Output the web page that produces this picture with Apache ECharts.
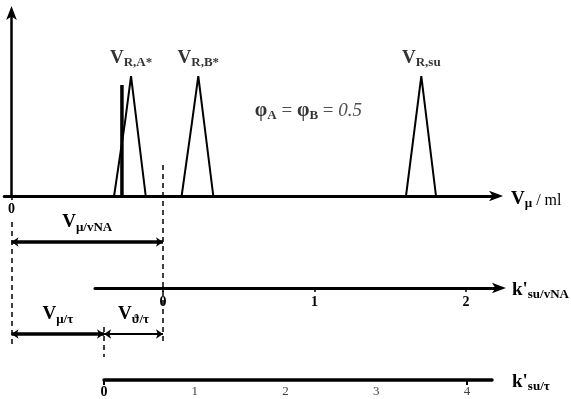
<!DOCTYPE html>
<html><head><meta charset="utf-8">
<script src="https://cdn.jsdelivr.net/npm/echarts@6/dist/echarts.min.js"></script>
<style>html,body{margin:0;padding:0;background:#fff}#c{width:571px;height:399px}</style>
</head><body><div id="c"></div>
<script>
// ---------- data (diagram values) ----------
// x positions in k'su/vNA units, heights in relative signal units (0..1)
const peakA = [[-0.323, 0], [-0.251, 0.40], [-0.211, 0.652], [-0.114, 0]];
const peakB = [[0.123, 0], [0.189, 0.386], [0.233, 0.652], [0.332, 0]];
const peakSu = [[1.604, 0], [1.705, 0.652], [1.802, 0]];
const peakNames = ['{V|V}{s|R,A*}', '{V|V}{s|R,B*}', '{V|V}{s|R,su}'];
const markerBar = [[-0.271, 0], [-0.271, 0.603]];
const vMuOrigin = -1;           // V_mu = 0 in k'su/vNA units
const kTauZero = -0.389;        // k'su/tau = 0 in k'su/vNA units
const kTauUnit = 0.599;         // one k'su/tau unit in k'su/vNA units
const kVnaTicks = [0, 1, 2];
const kTauTicks = [0, 1, 2, 3, 4];
// row levels (relative units below the baseline)
const rowVna = -0.25, rowKVna = -0.5, rowTau = -0.75, rowKTau = -1.0;
const dashed = [
  [[vMuOrigin, -0.141], [vMuOrigin, -0.826]],
  [[0, 0.168], [0, -0.799]],
  [[kTauZero, -0.712], [kTauZero, -0.875]]
];

// ---------- layout ----------
const W = 571, H = 399;
const X0 = 163, XS = 151.5;  // px of k=0, px per k unit
const Y0 = 196, YS = 184;    // px of baseline, px per signal unit
const px = k => X0 + XS * k;
const py = v => Y0 - YS * v;
const serif = '"Liberation Serif", "DejaVu Serif", serif';
const mainStart = -1.048, mainEnd = 2.205;
const kVnaStart = -0.449, kVnaEnd = 2.224;
const kTauEndPx = 492;

const rich = {
  V: {fontFamily: serif, fontSize: 19, fontWeight: 'bold', color: '#000', verticalAlign: 'bottom', padding: [0, 0, 2, 0]},
  s: {fontFamily: serif, fontSize: 13, fontWeight: 'bold', color: '#000', verticalAlign: 'bottom'},
  k: {fontFamily: serif, fontSize: 19, fontWeight: 'bold', color: '#000', verticalAlign: 'bottom', padding: [0, 0, 2, 0]},
  n: {fontFamily: serif, fontSize: 16, color: '#000', verticalAlign: 'bottom', padding: [0, 0, 2, 0]},
  ph: {fontFamily: serif, fontSize: 20, fontWeight: 'bold', color: '#000', verticalAlign: 'bottom', padding: [0, 0, 2, 0]},
  pa: {fontFamily: serif, fontSize: 13, fontWeight: 'bold', color: '#000', verticalAlign: 'bottom'},
  eq: {fontFamily: serif, fontSize: 19, color: '#222', verticalAlign: 'bottom', padding: [0, 0, 2, 0]},
  it: {fontFamily: serif, fontSize: 19, fontStyle: 'italic', color: '#222', verticalAlign: 'bottom', padding: [0, 0, 2, 0]},
  b0: {fontFamily: serif, fontSize: 14, fontWeight: 'bold', color: '#000'},
  g: {fontFamily: serif, fontSize: 13, color: '#444'}
};

const chart = echarts.init(document.getElementById('c'), null, {renderer: 'canvas'});
const hiddenY = (gi, min, max) => ({gridIndex: gi, type: 'value', min, max, show: false});

const lineStyleBlack = w => ({color: '#000', width: w});

const option = {
  animation: false,
  backgroundColor: '#fff',
  grid: [
    {left: 0, top: 0, width: W, height: H},                                   // 0 overlay
    {left: px(mainStart), top: py(1), width: px(mainEnd) - px(mainStart), height: YS}, // 1 main
    {left: px(kVnaStart), top: py(rowKVna) - 1, width: px(kVnaEnd) - px(kVnaStart), height: 1}, // 2
    {left: px(kTauZero), top: py(rowKTau) - 1, width: kTauEndPx - px(kTauZero), height: 1} // 3
  ],
  xAxis: [
    {gridIndex: 0, type: 'value', min: -X0 / XS, max: (W - X0) / XS, show: false},
    {gridIndex: 1, type: 'value', min: mainStart, max: mainEnd,
      axisLine: {show: true, onZero: false, lineStyle: {color: '#000', width: 3}, symbol: ['none', 'arrow'], symbolSize: [8, 14], symbolOffset: [0, 6]},
      axisTick: {show: true, customValues: [vMuOrigin], length: 4, lineStyle: {color: '#000', width: 1.5}},
      axisLabel: {show: true, customValues: [vMuOrigin], formatter: () => '0', fontFamily: serif, fontWeight: 'bold', fontSize: 14, color: '#000', margin: 6},
      splitLine: {show: false},
      name: '{V|V}{s|μ}{n| / ml}', nameLocation: 'end', nameGap: 14,
      nameTextStyle: {rich, verticalAlign: 'middle', padding: [8, 0, 0, 0]}
    },
    {gridIndex: 2, type: 'value', min: kVnaStart, max: kVnaEnd,
      axisLine: {show: true, onZero: false, lineStyle: {color: '#000', width: 3}, symbol: ['none', 'arrow'], symbolSize: [8, 14], symbolOffset: [0, 6]},
      axisTick: {show: true, customValues: kVnaTicks, length: 4, inside: false, lineStyle: {color: '#000', width: 1.5}},
      axisLabel: {show: true, customValues: kVnaTicks, formatter: v => String(Math.round(v)), fontFamily: serif, fontWeight: 'bold', fontSize: 14, color: '#000', margin: 7},
      splitLine: {show: false},
      name: "{k|k'}{s|su/vNA}", nameLocation: 'end', nameGap: 12,
      nameTextStyle: {rich, verticalAlign: 'middle', padding: [6, 0, 0, 0]}
    },
    {gridIndex: 3, type: 'value', min: 0, max: (kTauEndPx - px(kTauZero)) / (XS * kTauUnit),
      axisLine: {show: true, onZero: false, lineStyle: {color: '#000', width: 3.5}},
      axisTick: {show: true, customValues: [kTauTicks[0], kTauTicks[kTauTicks.length - 1]], length: 5, lineStyle: {color: '#000', width: 2}},
      axisLabel: {show: true, customValues: kTauTicks, margin: 5,
        formatter: v => (Math.round(v) === 0 ? '{b0|0}' : '{g|' + Math.round(v) + '}'), rich},
      splitLine: {show: false},
      name: "{k|k'}{s|su/τ}", nameLocation: 'end', nameGap: 20,
      nameTextStyle: {rich, verticalAlign: 'middle', padding: [6, 0, 0, 0]}
    }
  ],
  yAxis: [
    hiddenY(0, (Y0 - H) / YS, Y0 / YS),
    {gridIndex: 1, type: 'value', min: 0, max: 1, offset: -(px(vMuOrigin) - px(mainStart)),
      axisLine: {show: true, onZero: false, lineStyle: {color: '#000', width: 2.5}, symbol: ['none', 'arrow'], symbolSize: [8, 14], symbolOffset: [0, 6]},
      axisTick: {show: false}, axisLabel: {show: false}, splitLine: {show: false}},
    hiddenY(2, 0, 1),
    hiddenY(3, 0, 1)
  ],
  series: [
    // peaks
    ...[peakA, peakB, peakSu].map(p => ({type: 'line', xAxisIndex: 1, yAxisIndex: 1, data: p, symbol: 'none', lineStyle: lineStyleBlack(2), z: 3})),
    {type: 'line', xAxisIndex: 1, yAxisIndex: 1, data: markerBar, symbol: 'none', lineStyle: lineStyleBlack(3.5), z: 4},
    // peak labels
    {type: 'scatter', xAxisIndex: 1, yAxisIndex: 1, symbolSize: 1, itemStyle: {color: 'rgba(0,0,0,0)'},
      data: [peakA, peakB, peakSu].map((p, i) => {
        const apex = p.reduce((a, b) => (b[1] > a[1] ? b : a));
        return {value: apex, label: {show: true, position: 'top', distance: 6, formatter: peakNames[i], rich}};
      })},
    // phi annotation
    {type: 'scatter', xAxisIndex: 0, yAxisIndex: 0, symbolSize: 1, itemStyle: {color: 'rgba(0,0,0,0)'},
      data: [{value: [0.96, 0.46], label: {show: true, position: 'inside',
        formatter: '{ph|φ}{pa|A}{eq| = }{ph|φ}{pa|B}{eq| = }{it|0.5}', rich}}]},
    // dashed lines
    {type: 'lines', coordinateSystem: 'cartesian2d', xAxisIndex: 0, yAxisIndex: 0, polyline: false,
      lineStyle: {color: '#000', width: 1.5, type: [5, 4], opacity: 1, curveness: 0}, symbol: 'none',
      data: dashed.map(c => ({coords: c}))},
    // double-headed dimension arrows
    {type: 'lines', coordinateSystem: 'cartesian2d', xAxisIndex: 0, yAxisIndex: 0,
      lineStyle: {color: '#000', width: 3.5, opacity: 1, curveness: 0}, symbol: ['arrow', 'arrow'], symbolSize: 7,
      label: {show: true, position: 'insideMiddleTop', distance: 8, rich},
      data: [
        {coords: [[vMuOrigin, rowVna], [0, rowVna]], label: {formatter: '{V|V}{s|μ/vNA}'}},
        {coords: [[vMuOrigin, rowTau], [kTauZero, rowTau]], label: {formatter: '{V|V}{s|μ/τ}'}},
        {coords: [[kTauZero, rowTau], [0, rowTau]], lineStyle: {width: 2}, label: {formatter: '{V|V}{s|ϑ/τ}'}}
      ]}
  ]
};
chart.setOption(option);
</script></body></html>
